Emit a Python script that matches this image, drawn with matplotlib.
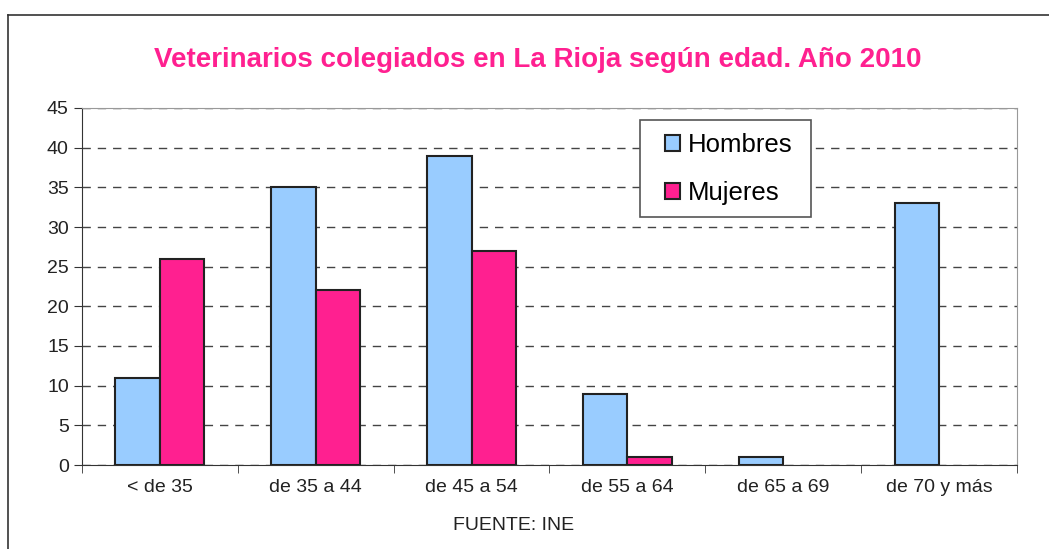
import numpy as np
import matplotlib
matplotlib.use('Agg')
import matplotlib.pyplot as plt
from matplotlib.lines import Line2D
from matplotlib.patches import Rectangle

# Datos del gráfico
edades = ['< de 35', 'de 35 a 44', 'de 45 a 54', 'de 55 a 64', 'de 65 a 69', 'de 70 y más']
hombres = [11, 35, 39, 9, 1, 33]
mujeres = [26, 22, 27, 1, 0, 0]

plt.rcParams['font.family'] = ['Liberation Sans', 'DejaVu Sans']

fig = plt.figure(figsize=(10.49, 5.49), dpi=100)
ax = fig.add_axes([82/1049, 1-465/549, (1017-82)/1049, (465-108)/549])

x = np.arange(len(edades))
w = 0.286
# las barras con valor 0 no se dibujan con borde
lw_h = [1.5 if v > 0 else 0 for v in hombres]
lw_m = [1.5 if v > 0 else 0 for v in mujeres]
ax.bar(x - w/2, hombres, w, color='#99CCFF', edgecolor='#222222', linewidth=lw_h, label='Hombres', zorder=3)
ax.bar(x + w/2, mujeres, w, color='#FF2090', edgecolor='#222222', linewidth=lw_m, label='Mujeres', zorder=3)

ax.set_xlim(-0.5, len(edades) - 0.5)
ax.set_ylim(0, 45)
ax.set_yticks(range(0, 46, 5))
ax.yaxis.grid(True, linestyle=(0, (6, 5)), color='#444444', linewidth=1)
ax.set_axisbelow(True)

ax.set_xticks(x)
ax.set_xticklabels(edades, fontsize=14, color='#222222')
ax.set_xticks(np.arange(-0.5, len(edades), 1), minor=True)
ax.tick_params(axis='x', which='major', length=0, pad=10)
ax.tick_params(axis='x', which='minor', length=6, direction='out', color='#333333')
ax.tick_params(axis='y', labelsize=14, length=6, direction='out', color='#333333', labelcolor='#222222')

ax.spines['left'].set_color('#333333')
ax.spines['bottom'].set_color('#333333')
ax.spines['top'].set_color('#999999')
ax.spines['right'].set_color('#999999')

fig.text(538/1049, 1-60/549, 'Veterinarios colegiados en La Rioja según edad. Año 2010',
         ha='center', va='center', fontsize=20, fontweight='bold', color='#FF2090')
fig.text(514/1049, 1-525/549, 'FUENTE: INE', ha='center', va='center', fontsize=14, color='#222222')

# Caja de la leyenda dibujada aparte (dentro de los ejes, debajo de la leyenda)
ax.add_patch(Rectangle((640/1049, 1-217/549), 171/1049, 97/549, transform=fig.transFigure,
                       facecolor='white', edgecolor='#555555', linewidth=1.2, zorder=4, clip_on=False))
leg = ax.legend(loc='upper left', bbox_to_anchor=(665/1049, 1-133/549), bbox_transform=fig.transFigure,
                fontsize=18.5, frameon=False,
                handlelength=0.58, handleheight=0.58, handletextpad=0.3, labelspacing=0.94,
                borderpad=0, borderaxespad=0)
leg.set_zorder(5)

# Marco de la figura (arriba e izquierda)
fig.add_artist(Line2D([8/1049, 8/1049], [0, 1-15/549], transform=fig.transFigure, color='#333333', linewidth=1.2))
fig.add_artist(Line2D([8/1049, 1], [1-15/549, 1-15/549], transform=fig.transFigure, color='#333333', linewidth=1.2))

fig.savefig('out.png', dpi=100)
